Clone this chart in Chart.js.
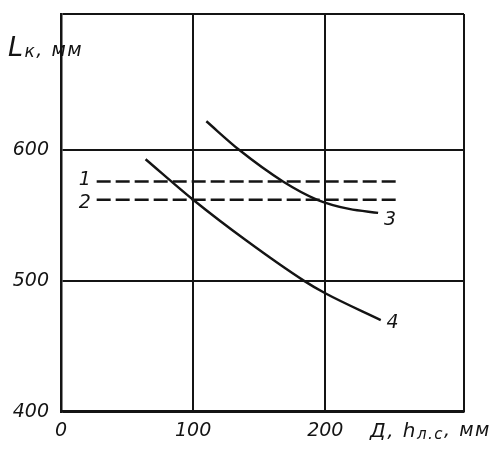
<!DOCTYPE html>
<html>
<head>
<meta charset="utf-8">
<script src="https://cdn.jsdelivr.net/npm/chart.js@4.4.0/dist/chart.umd.min.js"></script>
<style>
  html, body { margin: 0; padding: 0; background: #fff; }
</style>
</head>
<body>
<canvas id="chart" width="500" height="459"></canvas>
<script>
// axis ticks
const xTicks = [0, 100, 200]
const yTicks = [400, 500, 600]
const xMax = 305
const yMax = 704

// 1, 2 - horizontal dashed levels
const line1X = [27, 257]
const line1Y = [576, 576]
const line2X = [27, 257]
const line2Y = [562, 562]

// 3, 4 - curves
const curve3X = [110, 135, 168, 194, 218, 240]
const curve3Y = [622, 600, 576, 562, 555, 552]
const curve4X = [64, 100, 140, 184, 200, 242]
const curve4Y = [593, 562, 531, 500, 490.5, 470]

const ink = '#141414'
const toPoints = (xs, ys) => xs.map((x, i) => ({ x: x, y: ys[i] }))

const dashed = (xs, ys) => ({
  data: toPoints(xs, ys),
  borderColor: ink,
  borderWidth: 2.4,
  borderDash: [14, 5],
  pointRadius: 0,
  fill: false
})
const solid = (xs, ys) => ({
  data: toPoints(xs, ys),
  borderColor: ink,
  borderWidth: 2.4,
  cubicInterpolationMode: 'monotone',
  pointRadius: 0,
  fill: false
})

// writes text piece by piece: [text, size, baseline shift]
const writeParts = (ctx, x, y, parts) => {
  parts.forEach(p => {
    ctx.font = 'italic ' + p[1] + 'px "DejaVu Sans"'
    ctx.fillText(p[0], x, y + p[2])
    x += ctx.measureText(p[0]).width
  })
}

// curve numbers and axis titles drawn on top
const labelsPlugin = {
  id: 'labels',
  afterDraw(chart) {
    const ctx = chart.ctx
    const xs = chart.scales.x
    const ys = chart.scales.y
    ctx.save()
    ctx.fillStyle = ink
    ctx.textAlign = 'center'
    ctx.textBaseline = 'middle'
    ctx.font = 'italic 19px "DejaVu Sans"'
    const marks = [['1', 18, 577], ['2', 18, 559.5], ['3', 249, 546.5], ['4', 251, 468]]
    marks.forEach(m => ctx.fillText(m[0], xs.getPixelForValue(m[1]), ys.getPixelForValue(m[2])))

    ctx.textAlign = 'left'
    ctx.textBaseline = 'alphabetic'
    ctx.letterSpacing = '1.5px'
    writeParts(ctx, 8, 56, [['L', 27, 0], ['к', 17, 1], [', мм', 19, 0]])
    writeParts(ctx, 370, 437, [['Д, h', 20, 0], ['л.с', 15, 2], [', мм', 19, -1]])
    ctx.restore()
  }
}

new Chart(document.getElementById('chart').getContext('2d'), {
  type: 'line',
  data: {
    datasets: [
      dashed(line1X, line1Y),
      dashed(line2X, line2Y),
      solid(curve3X, curve3Y),
      solid(curve4X, curve4Y)
    ]
  },
  options: {
    responsive: false,
    animation: false,
    events: [],
    layout: { padding: { top: 14, right: 36, left: 0, bottom: 0 } },
    plugins: { legend: { display: false }, tooltip: { enabled: false } },
    scales: {
      x: {
        type: 'linear',
        min: 0,
        max: xMax,
        afterBuildTicks: s => { s.ticks = xTicks.concat([xMax]).map(v => ({ value: v })) },
        afterFit: s => { s.height = 47.3; s.paddingLeft = 0; s.paddingRight = 0 },
        ticks: {
          callback: v => xTicks.includes(v) ? String(v) : '',
          autoSkip: false,
          maxRotation: 0,
          padding: 8,
          color: ink,
          font: { family: 'DejaVu Sans', size: 19, style: 'italic' }
        },
        grid: { color: ink, lineWidth: 2, drawTicks: false },
        border: { color: ink, width: 2.5 }
      },
      y: {
        type: 'linear',
        min: 400,
        max: yMax,
        afterBuildTicks: s => { s.ticks = yTicks.concat([yMax]).map(v => ({ value: v })) },
        afterFit: s => { s.width = 61; s.paddingTop = 0; s.paddingBottom = 0 },
        ticks: {
          callback: v => yTicks.includes(v) ? String(v) : '',
          autoSkip: false,
          padding: 12,
          color: ink,
          font: { family: 'DejaVu Sans', size: 19, style: 'italic' }
        },
        grid: { color: ink, lineWidth: 2, drawTicks: false },
        border: { color: ink, width: 2.5 }
      }
    }
  },
  plugins: [labelsPlugin]
})
</script>
</body>
</html>
